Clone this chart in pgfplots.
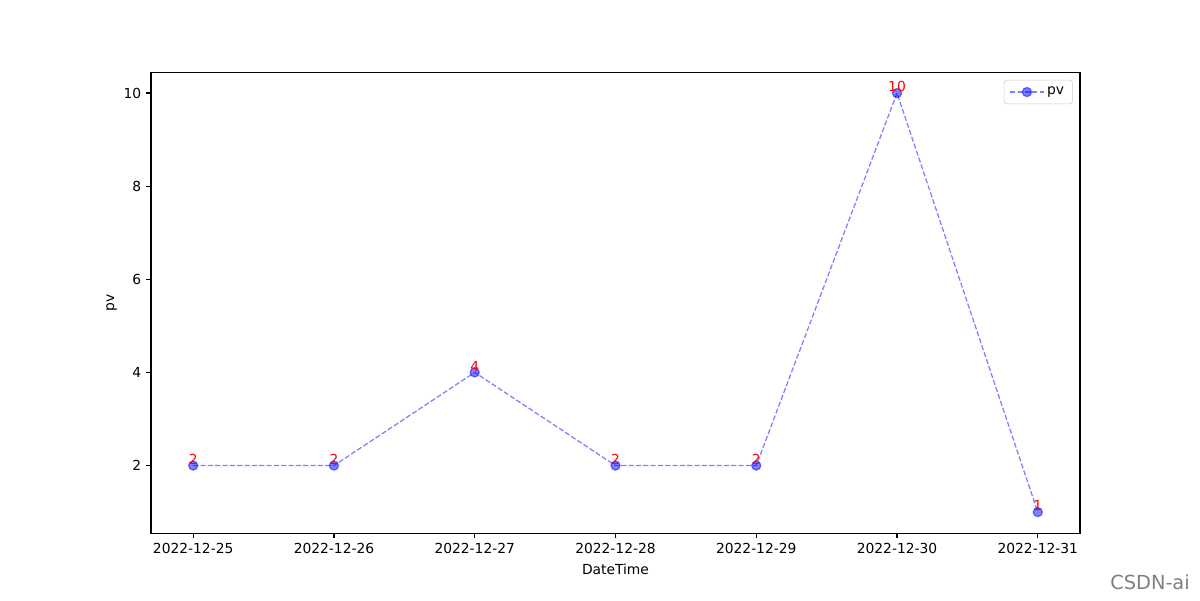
\documentclass[border=0pt]{standalone}
\usepackage{fontspec}
\setmainfont{DejaVu Sans}
\usepackage{pgfplots}
\pgfplotsset{compat=1.18}

\begin{document}
\begin{tikzpicture}[x=1bp,y=1bp]
\path[use as bounding box] (0,0) rectangle (864,432);
\begin{axis}[
  at={(108.7bp,48.2bp)}, anchor=south west,
  scale only axis,
  width=668.9bp, height=331.9bp,
  font=\fontsize{10}{12}\selectfont,
  /pgf/number format/assume math mode=true,
  xmin=-0.3, xmax=6.3,
  ymin=0.55, ymax=10.45,
  xtick={0,...,6},
  xticklabels={2022-12-25,2022-12-26,2022-12-27,2022-12-28,2022-12-29,2022-12-30,2022-12-31},
  ytick={2,4,6,8,10},
  tick align=outside,
  tick pos=left,
  major tick length=3.5bp,
  tick style={black, line width=0.8pt},
  axis line style={line width=0.8pt},
  xlabel={DateTime}, ylabel={pv},
  xlabel style={yshift=-1bp},
  ylabel style={yshift=-2bp},
  legend style={draw=black!20, rounded corners=2pt, font=\fontsize{10}{12}\selectfont,
    at={(0.992,0.983)}, anchor=north east, inner xsep=4pt, inner ysep=3pt},
  legend cell align=left,
  legend image code/.code={\draw[#1, mark repeat=2, mark phase=2]
    plot coordinates {(0bp,0bp) (12bp,0bp) (24bp,0bp)};},
]
\addplot[blue, draw opacity=0.5, line width=0.9pt, dash pattern=on 3.7pt off 1.6pt,
  mark=*, mark size=3.3pt, mark options={solid, fill=blue, fill opacity=0.5, draw opacity=0.5, draw=blue},
  nodes near coords, every node near coord/.append style={red, anchor=south, inner sep=0.5pt, font=\fontsize{10}{12}\selectfont, fill opacity=1, text opacity=1}]
  coordinates {
  (0,2) (1,2) (2,4) (3,2) (4,2) (5,10) (6,1)
};
\addlegendentry{pv}
\end{axis}
\node[text=black!50, font=\fontsize{14}{16}\selectfont] at (828,13) {CSDN-ai};
\end{tikzpicture}
\end{document}
